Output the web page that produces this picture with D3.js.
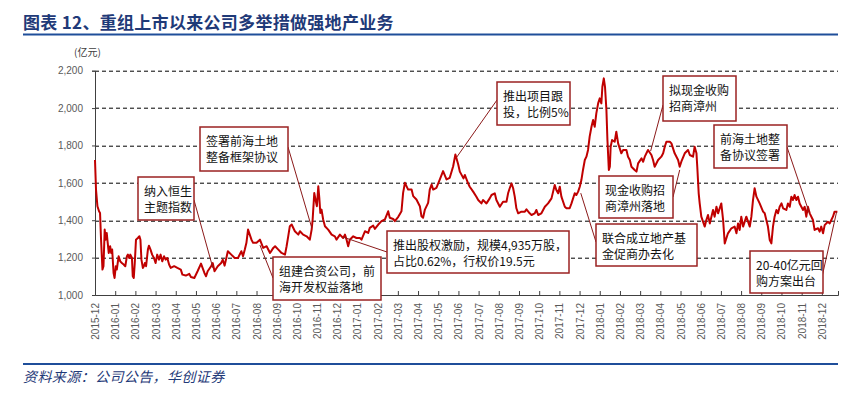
<!DOCTYPE html>
<html>
<head>
<meta charset="utf-8">
<script src="https://cdn.jsdelivr.net/npm/d3@7"></script>
<style>
  body { margin: 0; background: #fff; }
  svg { display: block; }
</style>
</head>
<body>
<div id="chart"></div>
<script>
// 月份标签（横轴）
const monthLabels = [
  '2015-12', '2016-01', '2016-02', '2016-03', '2016-04', '2016-05', '2016-06',
  '2016-07', '2016-08', '2016-09', '2016-10', '2016-11', '2016-12',
  '2017-01', '2017-02', '2017-03', '2017-04', '2017-05', '2017-06',
  '2017-07', '2017-08', '2017-09', '2017-10', '2017-11', '2017-12',
  '2018-01', '2018-02', '2018-03', '2018-04', '2018-05', '2018-06',
  '2018-07', '2018-08', '2018-09', '2018-10', '2018-11', '2018-12'
];

// 时间位置（距 2015-12 的月数）
const t = [
  0, 0.05, 0.12, 0.2, 0.25, 0.3, 0.37, 0.42, 0.48, 0.53, 0.58, 0.63, 0.68, 0.75, 0.8, 0.85, 0.92, 0.97,
  1.03, 1.08, 1.17, 1.25, 1.33, 1.42, 1.5, 1.58, 1.63, 1.7, 1.75, 1.83, 1.87, 1.92, 1.97,
  2.03, 2.12, 2.2, 2.25, 2.3, 2.37, 2.42, 2.47, 2.53, 2.62, 2.67, 2.75, 2.83, 2.92,
  3.0, 3.08, 3.17, 3.25, 3.33, 3.42, 3.5, 3.58, 3.67, 3.75, 3.92,
  4.08, 4.25, 4.33, 4.5, 4.67, 4.75, 4.92,
  5.08, 5.25, 5.42, 5.5, 5.58, 5.75, 5.83, 5.92,
  6.08, 6.25, 6.33, 6.42, 6.58, 6.75, 6.92,
  7.08, 7.25, 7.33, 7.42, 7.5, 7.58, 7.75, 7.83,
  8.0, 8.17, 8.33, 8.5, 8.67, 8.83, 8.92,
  9.08, 9.24, 9.41, 9.49, 9.57, 9.65, 9.74, 9.9,
  10.07, 10.15, 10.31, 10.48, 10.64, 10.73, 10.78, 10.86, 10.92, 10.99,
  11.06, 11.11, 11.16, 11.22, 11.3, 11.39, 11.55, 11.72, 11.88, 11.96,
  12.13, 12.29, 12.38, 12.46, 12.54, 12.62, 12.79, 12.95,
  13.12, 13.2, 13.37, 13.53, 13.61, 13.78, 13.86,
  14.03, 14.19, 14.36, 14.52, 14.6, 14.77, 14.85,
  15.02, 15.18, 15.26, 15.35, 15.51, 15.68, 15.76, 15.92,
  16.09, 16.17, 16.25, 16.34, 16.5, 16.58, 16.67, 16.75, 16.91,
  17.08, 17.24, 17.41, 17.57, 17.74, 17.85, 17.99,
  18.07, 18.25, 18.32, 18.48, 18.56, 18.73, 18.89, 18.98,
  19.14, 19.22, 19.39, 19.55, 19.64, 19.8, 19.88,
  20.05, 20.21, 20.38, 20.46, 20.54, 20.63, 20.71, 20.79, 20.87, 20.96,
  21.12, 21.29, 21.37, 21.53, 21.62, 21.78, 21.86, 21.95,
  22.11, 22.28, 22.44, 22.61, 22.69, 22.77, 22.85, 22.94,
  23.02, 23.1, 23.27, 23.35, 23.51, 23.6, 23.76, 23.84, 23.93,
  24.01, 24.09, 24.17, 24.26, 24.34, 24.42, 24.5, 24.59, 24.67, 24.75, 24.83, 24.92,
  25.0, 25.08, 25.13, 25.2, 25.26, 25.33, 25.38, 25.45, 25.5, 25.54, 25.61, 25.74, 25.82, 25.91,
  26.07, 26.16, 26.32, 26.4, 26.49, 26.57, 26.73, 26.82, 26.9,
  27.07, 27.15, 27.23, 27.39, 27.56, 27.64, 27.72, 27.89,
  28.05, 28.14, 28.22, 28.3, 28.47, 28.55, 28.71, 28.88, 28.96,
  29.04, 29.21, 29.37, 29.46, 29.62, 29.7, 29.79, 29.83, 29.9, 29.95,
  30.03, 30.2, 30.28, 30.36, 30.45, 30.61, 30.69, 30.78, 30.86,
  31.02, 31.11, 31.19, 31.35, 31.52, 31.68, 31.77, 31.85, 31.93,
  32.01, 32.1, 32.26, 32.43, 32.51, 32.59, 32.67, 32.76, 32.92,
  33.09, 33.17, 33.25, 33.33, 33.42, 33.5, 33.58, 33.66, 33.75, 33.83, 33.91,
  34.0, 34.08, 34.24, 34.32, 34.41, 34.49, 34.57, 34.65, 34.74, 34.82, 34.9,
  35.07, 35.15, 35.23, 35.31, 35.4, 35.56, 35.64, 35.81, 35.89, 35.97,
  36.06, 36.14, 36.3, 36.39, 36.47, 36.55, 36.63, 36.77
];

// 市值（亿元）
const values = [
  1722, 1564, 1475, 1448, 1439, 1296, 1136, 1154, 1350, 1296, 1332, 1279, 1225, 1261, 1225, 1243, 1118, 1091,
  1154, 1136, 1207, 1180, 1171, 1163, 1154, 1207, 1216, 1198, 1216, 1198, 1100, 1091, 1171,
  1296, 1305, 1314, 1296, 1189, 1145, 1154, 1171, 1154, 1243, 1264, 1243, 1216, 1198,
  1171, 1216, 1189, 1216, 1180, 1207, 1189, 1198, 1163, 1145, 1154,
  1145, 1136, 1109, 1104, 1113, 1096, 1091,
  1127, 1168, 1118, 1100, 1127, 1154, 1171, 1127,
  1154, 1171, 1189, 1157, 1234, 1216, 1198,
  1198, 1234, 1207, 1243, 1279, 1350, 1296, 1279,
  1279, 1296, 1252, 1261, 1225, 1252, 1261,
  1243, 1225, 1216, 1261, 1314, 1368, 1377, 1341,
  1323, 1341, 1323, 1314, 1296, 1350, 1404, 1546, 1511, 1475,
  1582, 1520, 1439, 1457, 1404, 1368, 1350, 1323, 1314, 1296,
  1323, 1305, 1323, 1296, 1261, 1296, 1314, 1305,
  1305, 1296, 1341, 1332, 1359, 1371, 1354,
  1377, 1395, 1404, 1448, 1413, 1407, 1395,
  1418, 1448, 1546, 1600, 1564, 1564, 1529, 1511,
  1475, 1421, 1413, 1457, 1493, 1564, 1591, 1564, 1573,
  1618, 1663, 1618, 1627, 1689, 1752, 1698,
  1660, 1624, 1642, 1597, 1579, 1553, 1526, 1508,
  1490, 1508, 1490, 1517, 1535, 1544, 1508,
  1472, 1499, 1499, 1544, 1571, 1597, 1571, 1526, 1464, 1437,
  1446, 1446, 1458, 1437, 1428, 1437, 1455, 1428,
  1437, 1472, 1490, 1517, 1553, 1588, 1562, 1544,
  1579, 1526, 1472, 1464, 1464, 1490, 1544, 1535, 1553,
  1579, 1615, 1669, 1722, 1740, 1776, 1847, 1900, 1936, 1900, 1972, 2025,
  2052, 2025, 2114, 2159, 2114, 1990, 1829, 1669, 1686, 1793, 1829, 1820, 1874, 1811,
  1758, 1776, 1776, 1740, 1722, 1686, 1669, 1660, 1704,
  1731, 1713, 1740, 1776, 1749, 1722, 1686, 1722,
  1740, 1758, 1793, 1820, 1820, 1811, 1758, 1722, 1686,
  1713, 1758, 1776, 1749, 1740, 1793, 1758, 1686, 1544, 1490,
  1419, 1366, 1401, 1428, 1383, 1455, 1419, 1472, 1437,
  1490, 1401, 1276, 1330, 1357, 1366, 1330, 1383, 1348,
  1419, 1366, 1419, 1366, 1419, 1508, 1571, 1526, 1490,
  1446, 1437, 1401, 1366, 1294, 1276, 1366, 1419, 1455, 1437, 1472,
  1490, 1464, 1455, 1490, 1472, 1526, 1508, 1535, 1508, 1526, 1490,
  1455, 1472, 1419, 1472, 1437, 1401, 1348, 1357, 1339, 1366,
  1330, 1374, 1392, 1383, 1401, 1419, 1446, 1446
];

const yTicks = [1000, 1200, 1400, 1600, 1800, 2000, 2200];

// 事件标注：文字、指向的数据点、文本框位置
const notes = [
  { lines: ['纳入恒生', '主题指数'], at: [5.84, 1144], box: [138, 177, 56, 43], from: [194, 200] },
  { lines: ['签署前海土地', '整备框架协议'], at: [10.74, 1358], box: [200, 127, 88, 44], from: [288, 147] },
  { lines: ['组建合资公司，前', '海开发权益落地'], at: [8.17, 1267], box: [273, 257, 108, 43], from: [273, 278] },
  { lines: ['推出股权激励，规模4,935万股，', '占比0.62%，行权价19.5元'], at: [12.28, 1310], box: [387, 231, 182, 42], from: [387, 252] },
  { lines: ['推出项目跟', '投，比例5%'], at: [17.92, 1738], box: [497, 82, 73, 43], from: [497, 100] },
  { lines: ['联合成立地产基', '金促商办去化'], at: [24.06, 1545], box: [596, 224, 101, 42], from: [596, 242] },
  { lines: ['现金收购招', '商漳州落地'], at: [28.96, 1669], box: [599, 176, 74, 42], from: [673, 197] },
  { lines: ['拟现金收购', '招商漳州'], at: [27.52, 1770], box: [663, 76, 73, 45], from: [663, 105] },
  { lines: ['前海土地整', '备协议签署'], at: [35.4, 1433], box: [714, 125, 73, 43], from: [787, 147] },
  { lines: ['20-40亿元回', '购方案出台'], at: [36.73, 1444], box: [750, 251, 73, 42], from: [822, 277] }
];

const W = 859, H = 396;
const margin = { top: 70.7, right: 21, bottom: 101, left: 95 };
const width = W - margin.left - margin.right;
const height = H - margin.top - margin.bottom;

const svg = d3.select('#chart').append('svg')
  .attr('width', W)
  .attr('height', H);

const cjk = '"Noto Sans CJK SC", "Noto Sans", sans-serif';
const latin = '"Liberation Sans", Arial, sans-serif';

// 标题
svg.append('text')
  .attr('x', 23)
  .attr('y', 29)
  .attr('font-family', cjk)
  .attr('font-size', 17)
  .attr('font-weight', 'bold')
  .attr('letter-spacing', 0.3)
  .attr('fill', '#1f3a78')
  .text('图表 12、重组上市以来公司多举措做强地产业务');

svg.append('line')
  .attr('x1', 23).attr('x2', 838)
  .attr('y1', 34.5).attr('y2', 34.5)
  .attr('stroke', '#1f4e9a')
  .attr('stroke-width', 2);

svg.append('text')
  .attr('x', 74)
  .attr('y', 56)
  .attr('font-family', cjk)
  .attr('font-size', 10)
  .attr('fill', '#404040')
  .text('(亿元)');

const g = svg.append('g')
  .attr('transform', `translate(${margin.left},${margin.top})`);

const x = d3.scaleLinear().domain([0, 36.8]).range([0, width]);
const y = d3.scaleLinear().domain([1000, 2200]).range([height, 0]);

// 网格线
g.selectAll('.grid')
  .data(yTicks.filter(d => d > 1000))
  .enter()
  .append('line')
  .attr('class', 'grid')
  .attr('x1', 0)
  .attr('x2', width)
  .attr('y1', d => Math.round(y(d)) + 0.5)
  .attr('y2', d => Math.round(y(d)) + 0.5)
  .attr('stroke', '#000')
  .attr('stroke-width', 1)
  .attr('stroke-dasharray', '4,3');

// 纵轴
const yAxis = g.append('g')
  .call(d3.axisLeft(y).tickValues(yTicks).tickSize(3).tickFormat(d3.format(',')));
yAxis.select('.domain').attr('stroke', '#404040');
yAxis.selectAll('.tick line').attr('stroke', '#404040');
yAxis.selectAll('text')
  .attr('x', -12)
  .attr('font-family', latin)
  .attr('font-size', 10)
  .attr('fill', '#595959');

// 横轴
const xAxis = g.append('g')
  .attr('transform', `translate(0,${height})`)
  .call(d3.axisBottom(x)
    .tickValues(d3.range(monthLabels.length))
    .tickSize(-4)
    .tickFormat(i => monthLabels[i]));
xAxis.select('.domain').attr('stroke', '#404040');
xAxis.selectAll('.tick line').attr('stroke', '#404040');
xAxis.selectAll('text')
  .attr('font-family', latin)
  .attr('font-size', 10)
  .attr('fill', '#595959')
  .attr('text-anchor', 'end')
  .attr('dy', '0.35em')
  .attr('transform', 'translate(0,8) rotate(-90)')
  .attr('x', 0)
  .attr('y', 0);

// 市值折线
const series = t.map((d, i) => ({ t: d, v: values[i] }));
g.append('path')
  .datum(series)
  .attr('fill', 'none')
  .attr('stroke', '#c00000')
  .attr('stroke-width', 2)
  .attr('stroke-linejoin', 'round')
  .attr('d', d3.line().x(d => x(d.t)).y(d => y(d.v)));

// 标注
const ann = svg.append('g');
ann.selectAll('.leader')
  .data(notes)
  .enter()
  .append('line')
  .attr('class', 'leader')
  .attr('x1', d => d.from[0])
  .attr('y1', d => d.from[1])
  .attr('x2', d => margin.left + x(d.at[0]))
  .attr('y2', d => margin.top + y(d.at[1]))
  .attr('stroke', '#8b1a1a')
  .attr('stroke-width', 1);

const box = ann.selectAll('.note')
  .data(notes)
  .enter()
  .append('g')
  .attr('class', 'note')
  .attr('transform', d => `translate(${d.box[0]},${d.box[1]})`);

box.append('rect')
  .attr('width', d => d.box[2])
  .attr('height', d => d.box[3])
  .attr('fill', '#fff')
  .attr('stroke', '#9b2222')
  .attr('stroke-width', 1.5);

box.each(function (d) {
  d3.select(this).selectAll('text')
    .data(d.lines)
    .enter()
    .append('text')
    .attr('x', 6)
    .attr('y', (l, i) => 19 + i * 16)
    .attr('font-family', cjk)
    .attr('font-size', 12)
    .attr('fill', '#111')
    .text(l => l);
});

// 底部来源
svg.append('line')
  .attr('x1', 23).attr('x2', 838)
  .attr('y1', 364).attr('y2', 364)
  .attr('stroke', '#1f4e9a')
  .attr('stroke-width', 2);

svg.append('text')
  .attr('x', 23)
  .attr('y', 382)
  .attr('font-family', cjk)
  .attr('font-size', 14)
  .attr('font-style', 'italic')
  .attr('letter-spacing', 0.4)
  .attr('fill', '#1f3a78')
  .text('资料来源：公司公告，华创证券');
</script>
</body>
</html>
